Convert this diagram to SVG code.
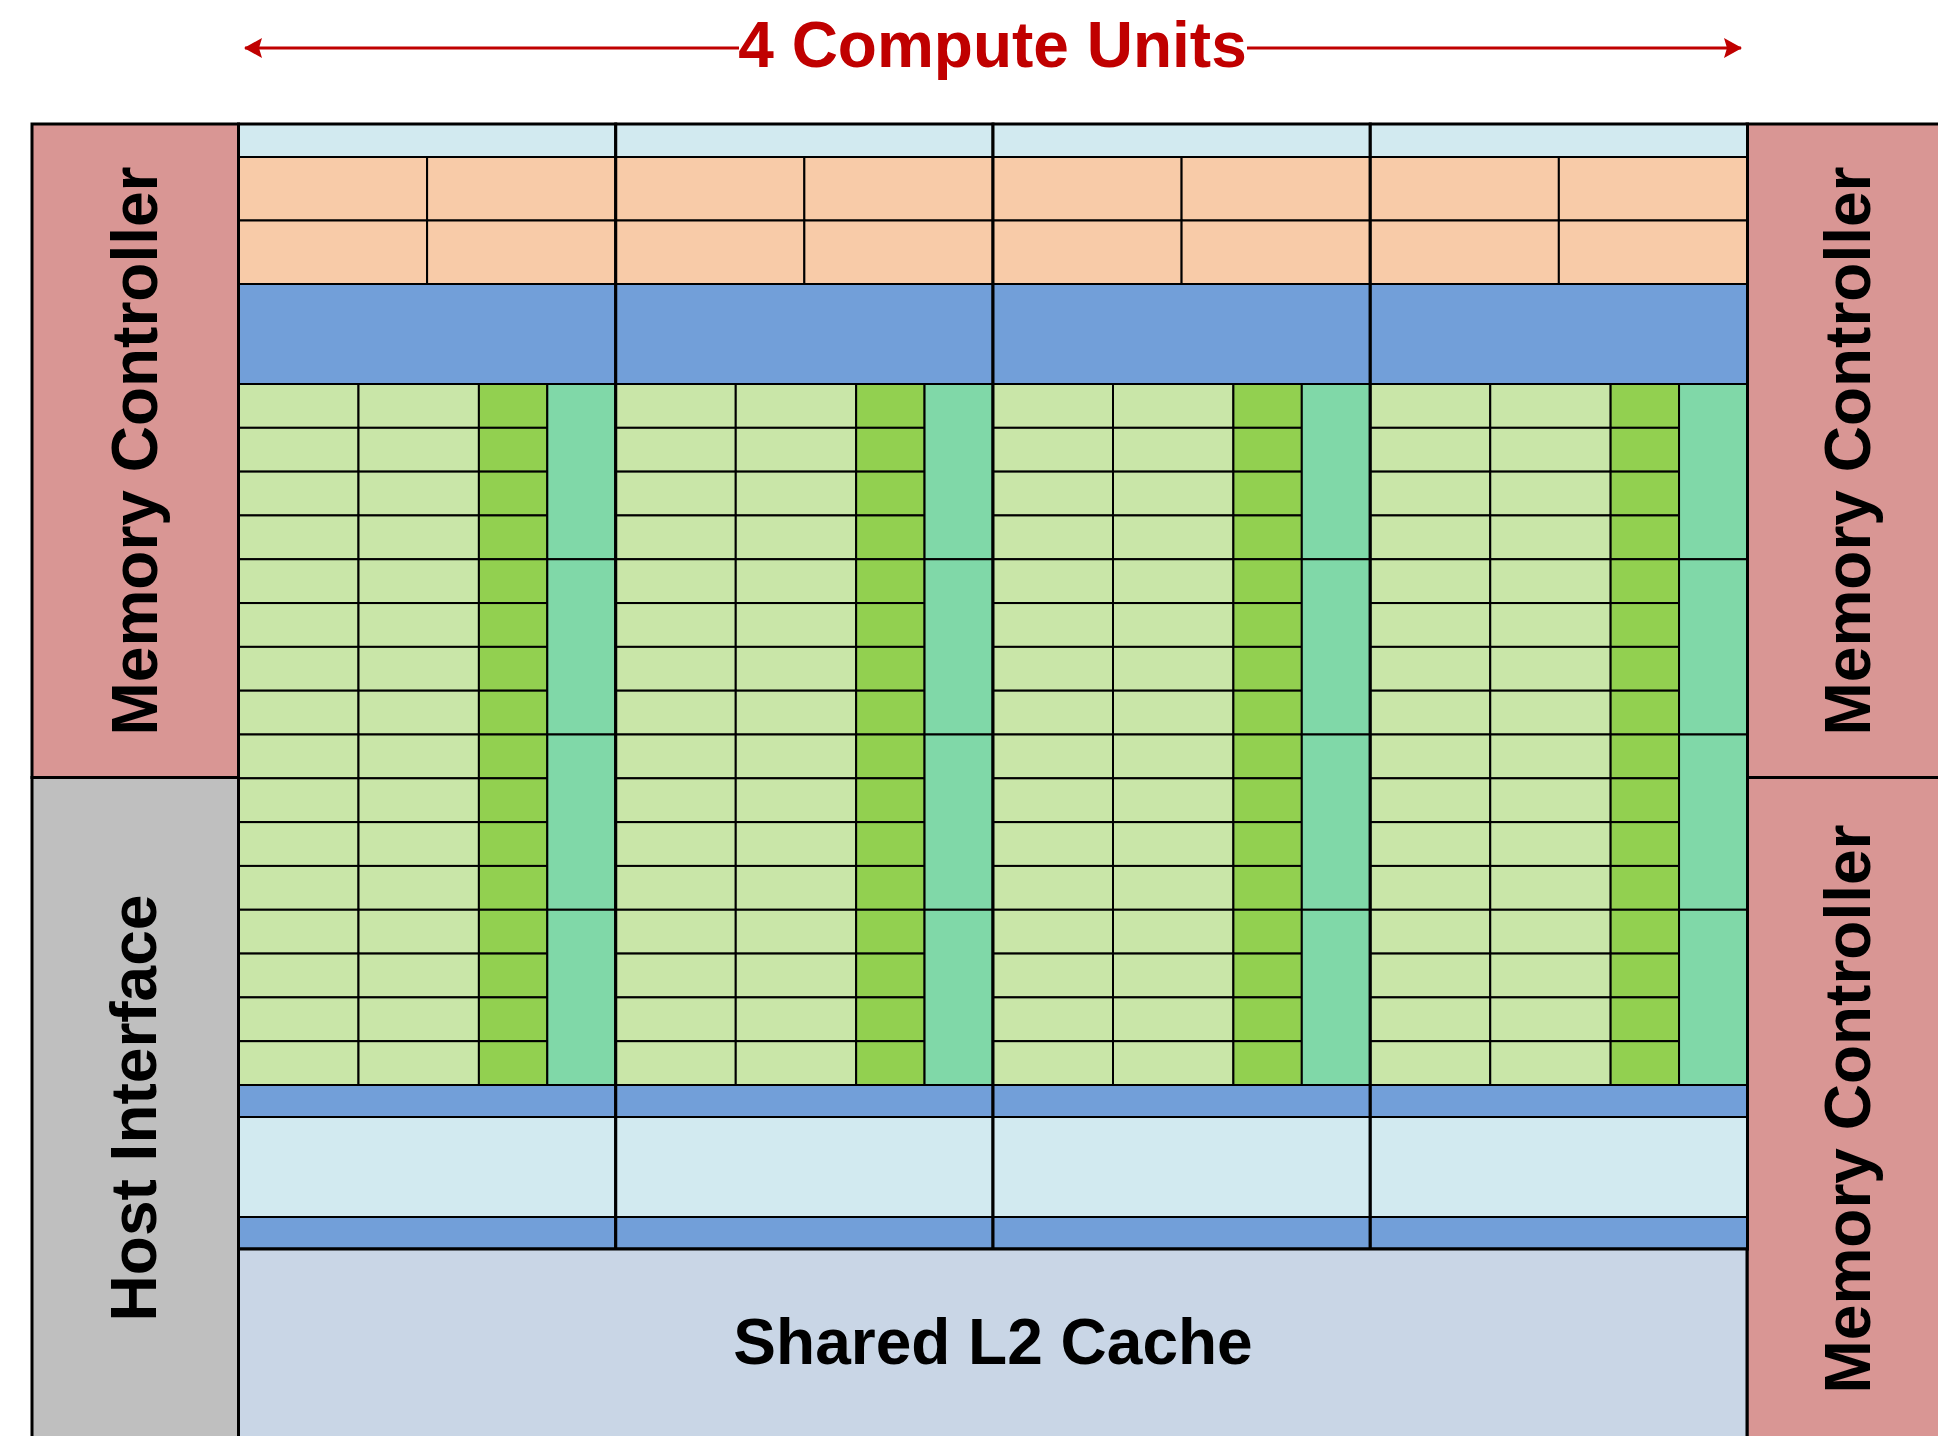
<svg xmlns="http://www.w3.org/2000/svg" xmlns:xlink="http://www.w3.org/1999/xlink" width="1938" height="1436" viewBox="0 0 1938 1436">
<style>
.ln{stroke:#000;stroke-width:2}
.lk{stroke:#000;stroke-width:3}
.lb{fill:#D2EAF0}
.or{fill:#F8CBA8}
.bl{fill:#729FD9}
.lg{fill:#C9E6A8}
.dg{fill:#92D050}
.tl{fill:#80D8A8}
.mc{fill:#D99694}
.hi{fill:#BFBFBF}
.l2{fill:#C9D6E6}
.lbl{font-family:"Liberation Sans",Arial,sans-serif;font-weight:bold;font-size:64px;fill:#000;text-anchor:middle}
.ttl{fill:#C00000}
.arr{stroke:#C00000;stroke-width:3;fill:none}
</style>
<defs>
<marker id="ah" viewBox="0 0 18 20" refX="17" refY="10" markerWidth="18" markerHeight="20" markerUnits="userSpaceOnUse" orient="auto-start-reverse">
<path d="M0,0 L18,10 L0,20 L3,10 z" fill="#C00000"/>
</marker>
<g id="row">
<rect class="lg ln" x="0" y="0" width="120" height="43.8125"/>
<rect class="lg ln" x="120" y="0" width="120.4" height="43.8125"/>
<rect class="dg ln" x="240.4" y="0" width="68.4" height="43.8125"/>
</g>
<g id="unit">
<rect class="lb ln" x="0" y="0" width="377.25" height="33"/>
<rect class="or ln" x="0" y="33" width="188.6" height="63.5"/>
<rect class="or ln" x="188.6" y="33" width="188.65" height="63.5"/>
<rect class="or ln" x="0" y="96.5" width="188.6" height="63.5"/>
<rect class="or ln" x="188.6" y="96.5" width="188.65" height="63.5"/>
<rect class="bl ln" x="0" y="160" width="377.25" height="100"/>
<use xlink:href="#row" y="260"/>
<use xlink:href="#row" y="303.8125"/>
<use xlink:href="#row" y="347.625"/>
<use xlink:href="#row" y="391.4375"/>
<use xlink:href="#row" y="435.25"/>
<use xlink:href="#row" y="479.0625"/>
<use xlink:href="#row" y="522.875"/>
<use xlink:href="#row" y="566.6875"/>
<use xlink:href="#row" y="610.5"/>
<use xlink:href="#row" y="654.3125"/>
<use xlink:href="#row" y="698.125"/>
<use xlink:href="#row" y="741.9375"/>
<use xlink:href="#row" y="785.75"/>
<use xlink:href="#row" y="829.5625"/>
<use xlink:href="#row" y="873.375"/>
<use xlink:href="#row" y="917.1875"/>
<rect class="tl ln" x="308.8" y="260" width="68.45" height="175.25"/>
<rect class="tl ln" x="308.8" y="435.25" width="68.45" height="175.25"/>
<rect class="tl ln" x="308.8" y="610.5" width="68.45" height="175.25"/>
<rect class="tl ln" x="308.8" y="785.75" width="68.45" height="175.25"/>
<rect class="bl ln" x="0" y="961" width="377.25" height="32"/>
<rect class="lb ln" x="0" y="993" width="377.25" height="100"/>
<rect class="bl ln" x="0" y="1093" width="377.25" height="32"/>
<rect x="0" y="0" width="377.25" height="1125" fill="none" class="lk"/>
</g>
</defs>

<g id="memory-controller-left">
<rect class="mc lk" x="32" y="124" width="206.5" height="653.5"/>
<text class="lbl" transform="translate(157,451) rotate(-90)">Memory Controller</text>
</g>
<g id="host-interface">
<rect class="hi lk" x="32" y="777.5" width="206.5" height="700"/>
<text class="lbl" transform="translate(156,1108) rotate(-90)">Host Interface</text>
</g>
<g id="memory-controller-right-top">
<rect class="mc lk" x="1747" y="124" width="220" height="653.5"/>
<text class="lbl" transform="translate(1870,451) rotate(-90)">Memory Controller</text>
</g>
<g id="memory-controller-right-bottom">
<rect class="mc lk" x="1747" y="777.5" width="220" height="700"/>
<text class="lbl" transform="translate(1870,1109) rotate(-90)">Memory Controller</text>
</g>

<g id="compute-unit-1" transform="translate(238.5,124)"><use xlink:href="#unit"/></g>
<g id="compute-unit-2" transform="translate(615.75,124)"><use xlink:href="#unit"/></g>
<g id="compute-unit-3" transform="translate(993,124)"><use xlink:href="#unit"/></g>
<g id="compute-unit-4" transform="translate(1370.25,124)"><use xlink:href="#unit"/></g>

<g id="shared-l2-cache">
<rect class="l2 lk" x="238.5" y="1249" width="1508.5" height="220"/>
<text class="lbl" x="993" y="1364">Shared L2 Cache</text>
</g>

<g id="title">
<text class="lbl ttl" x="992.5" y="67">4 Compute Units</text>
</g>

<g id="connectors">
<line class="arr" x1="245" y1="48" x2="739" y2="48" marker-start="url(#ah)"/>
<line class="arr" x1="1247" y1="48" x2="1741" y2="48" marker-end="url(#ah)"/>
</g>
</svg>
